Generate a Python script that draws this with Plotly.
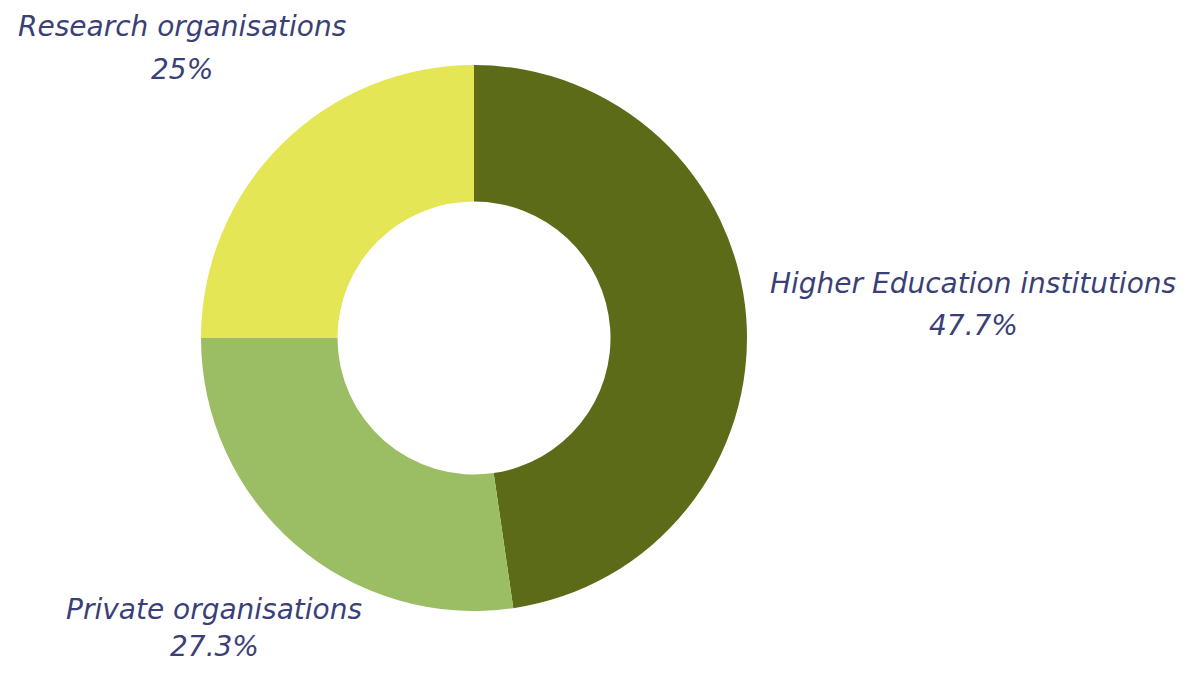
import plotly.graph_objects as go

labels = ["Higher Education institutions", "Private organisations", "Research organisations"]
values = [47.7, 27.3, 25.0]
colors = ["#5b6b17", "#9bbd63", "#e5e655"]

W, H = 1185, 659   # page body has an 8px margin in the 1201x675 window
OFF = 8

def px(x, y):
    return ((x - OFF) / W, 1 - (y - OFF) / H)

# label placement (window pixel centre x, name-line y, percent-line y) - layout only
label_pos = {
    "Higher Education institutions": (973, 283, 325),
    "Private organisations": (214, 609, 646),
    "Research organisations": (182, 27, 69),
}

def fmt(v):
    s = f"{v:.1f}"
    if s.endswith(".0"):
        s = s[:-2]
    return s + "%"

cx, cy, r = 474, 338, 273
x0, y1 = px(cx - r, cy - r)
x1, y0 = px(cx + r, cy + r)

fig = go.Figure(go.Pie(
    labels=labels,
    values=values,
    hole=0.5,
    sort=False,
    direction="clockwise",
    rotation=0,
    marker=dict(colors=colors, line=dict(width=0)),
    textinfo="none",
    showlegend=False,
    domain=dict(x=[x0, x1], y=[y0, y1]),
))

font = dict(family="DejaVu Sans", size=28, color="#3b3f78", style="italic")
for lab, val in zip(labels, values):
    xc, yname, ypct = label_pos[lab]
    for txt, yy in ((lab, yname), (fmt(val), ypct)):
        x, y = px(xc, yy)
        fig.add_annotation(
            x=x, y=y, xref="paper", yref="paper",
            text=txt, showarrow=False,
            xanchor="center", yanchor="middle", align="center",
            font=font,
        )

fig.update_layout(
    width=W, height=H,
    margin=dict(l=0, r=0, t=0, b=0),
    paper_bgcolor="white", plot_bgcolor="white",
)

fig.write_html("out.html")
